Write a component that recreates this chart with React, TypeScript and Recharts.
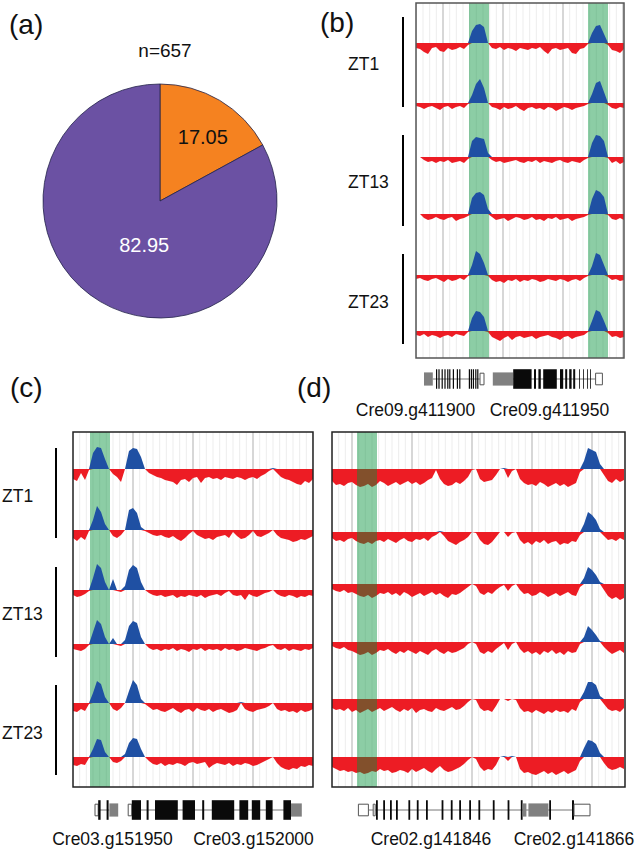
import {
  Area,
  CartesianGrid,
  Cell,
  ComposedChart,
  Pie,
  PieChart,
  ReferenceArea,
  ReferenceLine,
  XAxis,
  YAxis,
} from 'recharts';

const FONT = '"Liberation Sans", Arial, sans-serif';
const RED = '#ed1c24';
const BLUE = '#1f50a3';
const GREEN = '#009137';
const MINOR = 5 / 3; // minor grid spacing in track samples
const PER_MAJOR = 9;

// (a) pie
const PIE_NAMES = ['circadian', 'other'];
const PIE_VALUES = [17.05, 82.95];
const PIE_COLORS = ['#f58220', '#6b51a3'];
const PIE_TEXT = ['#111', '#fff'];
const SAMPLE_SIZE = 'n=657';

const ZT_LABELS = ['ZT1', 'ZT13', 'ZT23'];

// track signal: positive = blue peak, negative = red coverage
// (b)
const B_ZT1_A = [-5,-6,-9,-11,-5,-4,-8,-9,-5,-7,-6,-4,-6,-2, 12,18,19,16, 0, -5,-6,-4,-7,-5,-6,-8,-5,-6,-7,-5,-6,-4,-8,-11,-6,-5,-7,-6,-5,-10,-11,-6,-5, -1, 10,17,18,9, -2, -7,-8,-10,-6];
const B_ZT1_B = [-3,-4,-6,-4,-3,-5,-7,-4,-3,-6,-4,-3,-5,-1, 8,19,24,15, 0, -4,-5,-7,-4,-6,-5,-3,-6,-8,-5,-4,-6,-5,-7,-4,-5,-8,-6,-4,-5,-7,-5,-4,-3, -1, 9,20,22,11, -2, -5,-6,-4,-5];
const B_ZT13_A = [0,0,-3,-5,-4,-6,-4,-5,-3,-6,-5,-4,-6,-2, 16,20,19,18, 4, -3,-5,-4,-6,-5,-4,-3,-5,-6,-4,-5,-3,-6,-4,-5,-6,-4,-3,-5,-6,-4,-5,-6,-3, -1, 14,22,21,16, -1, -6,-4,-7,-5];
const B_ZT13_B = [0,0,-4,-6,-5,-3,-5,-6,-4,-3,-7,-5,-4,-2, 16,21,22,19, 5, -3,-6,-5,-4,-7,-5,-3,-4,-6,-5,-3,-6,-5,-7,-4,-5,-3,-6,-5,-4,-7,-5,-4,-3, -1, 15,24,22,17, -1, -5,-6,-4,-6];
const B_ZT23_A = [-4,-3,-5,-6,-4,-3,-5,-7,-4,-6,-5,-3,-5,-1, 10,24,21,12, -1, -5,-7,-6,-8,-5,-6,-4,-7,-5,-6,-4,-5,-7,-6,-4,-5,-6,-4,-5,-7,-5,-4,-6,-3, -1, 9,22,20,10, -2, -5,-4,-6,-5];
const B_ZT23_B = [-4,-5,-3,-6,-4,-5,-7,-5,-4,-6,-3,-4,-5,-1, 13,20,19,14, -1, -6,-8,-10,-7,-5,-9,-6,-5,-7,-6,-5,-8,-6,-5,-4,-6,-7,-9,-6,-5,-8,-6,-5,-4, -1, 10,21,19,10, -2, -6,-5,-7,-6];

// (c)
const C_ZT1_A = [-10,-12,-4,-11,-1, 16,22,21,10, 0, -5,-8,-13, 0, 18,21,20,12, 0, -4,-6,-8,-9,-11,-12,-13,-16,-11,-10,-13,-9,-8,-14,-9,-8,-10,-9,-11,-8,-9,-10,-8,-9,-11,-9,-8,-10,-7,-5,-2, 1, -4,-8,-10,-11,-13,-15,-16,-12,-14,-10];
const C_ZT1_B = [-8,-11,-7,-10,-1, 10,24,18,6, 0, -6,-8,-5, 0, 20,22,17,3, -1, -3,-5,-6,-5,-7,-8,-6,-9,-11,-8,-4,-1,-5,-7,-9,-8,-10,-7,-6,-5,-8,-2,-6,-9,-8,-5,-1,-6,-7,-5,-3,0,-5,-8,-9,-10,-12,-11,-9,-10,-8,-6];
const C_ZT13_A = [-5,-7,-6,-4,-1, 12,26,22,8, 0,11,-1,-2, 4,20,25,22,8, 0, -3,-5,-6,-5,-7,-6,-5,-8,-6,-7,-5,-6,-7,-5,-8,-6,-5,-4,-6,-3,-1,-5,-6,-5,-10,-4,-6,-7,-5,-3,-2,0,-4,-6,-7,-5,-6,-8,-6,-7,-5,-6];
const C_ZT13_B = [-5,-6,-7,-5,-1, 12,24,20,7, 0,6,-1,-2, 4,18,23,21,7, 0, -4,-6,-5,-7,-5,-6,-4,-7,-5,-6,-8,-5,-6,-4,-7,-5,-6,-5,-7,-4,-6,-5,-7,-6,-4,-5,-6,-7,-5,-4,-2,-1,-5,-6,-4,-7,-5,-6,-7,-5,-6,-4];
const C_ZT23_A = [-8,-9,-6,-8,-1, 10,22,19,6, 0, -6,-8,-5, 0, 12,23,18,4, -1, -4,-7,-6,-8,-9,-7,-5,-8,-10,-7,-6,-9,-5,-7,-8,-6,-9,-7,-6,-8,-10,-9,-7,1,-6,-8,-9,-7,-6,-5,-3,0,-6,-8,-7,-9,-8,-10,-7,-9,-8,-6];
const C_ZT23_B = [-8,-9,-7,-8,-1, 8,18,17,5, 0, -5,-6,-4, 3,14,19,18,8, 0, -4,-7,-8,-6,-9,-7,-8,-6,-7,-9,-6,-5,-7,-6,-5,-11,-8,-6,-7,-8,-6,-9,-7,-8,-6,-7,-9,-8,-6,-4,-2,0,-6,-10,-12,-13,-11,-12,-9,-10,-8,-9];

// (d)
const D_ZT1_A = [-12,-16,-15,-17,-14,-13,-16,-18,-17,-15,-18,-16,-12,-14,-17,-15,-13,-16,-14,-12,-15,-13,-16,-14,-11,-9,-1,-10,-15,-17,-16,-13,-15,-12,-8, -1, 0, -10,-13,-12,-11,-6, 0, 1, -9, -2, 0, -10,-14,-16,-15,-17,-13,-15,-18,-16,-14,-17,-15,-18,-16,-14,-3, 8,21,19,17,5, -6,-12,-14,-10,-13,-11];
const D_ZT1_B = [-6,-9,-8,-10,-7,-6,-9,-11,-12,-10,-12,-9,-8,-10,-7,-9,-11,-8,-6,-9,-10,-7,-8,-6,-9,-5,-3,1,-4,-9,-11,-13,-10,-8,-5, 0, -1, -8,-12,-13,-10,-5, 0, 0, -5, -1, 0, -8,-12,-10,-13,-9,-11,-8,-12,-10,-9,-13,-11,-12,-9,-10,-3, 8,20,17,12,3, -4,-8,-7,-9,-6,-8];
const D_ZT13_A = [-5,-7,-8,-6,-9,-8,-10,-12,-13,-11,-14,-12,-9,-10,-8,-11,-9,-12,-8,-10,-13,-11,-9,-12,-10,-8,-11,-9,-12,-14,-10,-11,-9,-6,-3, 0, -2, -9,-11,-8,-10,-6, -3, -1, -7, -2, 0, -6,-10,-9,-12,-11,-8,-10,-13,-11,-9,-12,-10,-8,-11,-12,-3, 6,17,14,9,2, -6,-12,-15,-13,-16,-14];
const D_ZT13_B = [-4,-6,-7,-5,-8,-9,-11,-13,-12,-10,-13,-11,-8,-9,-7,-10,-12,-9,-11,-8,-10,-12,-9,-11,-13,-9,-7,-10,-12,-9,-11,-10,-8,-6,-2, 0, -2, -10,-12,-9,-11,-7, -4, -1, -8, -2, 0, -7,-11,-9,-12,-10,-13,-9,-11,-8,-12,-10,-13,-9,-11,-10,-2, 5,16,12,7,1, -5,-9,-12,-10,-8,-11];
const D_ZT23_A = [-9,-11,-10,-12,-9,-13,-11,-14,-12,-10,-13,-11,-9,-12,-10,-8,-11,-13,-10,-12,-9,-14,-11,-10,-12,-13,-9,-11,-12,-10,-8,-11,-10,-7,-3, 0, -1, -9,-12,-11,-13,-7, 0, 0, -2, 0, -1, -9,-13,-12,-14,-11,-13,-15,-12,-14,-11,-13,-12,-14,-10,-12,-3, 7,17,17,14,3, -5,-10,-12,-11,-13,-9];
const D_ZT23_B = [-10,-12,-14,-13,-15,-14,-16,-15,-17,-16,-14,-15,-12,-14,-13,-16,-15,-13,-14,-16,-12,-15,-13,-11,-14,-16,-12,-9,-13,-15,-14,-12,-10,-7,-3, 0, -2, -10,-14,-12,-13,-8, 0, 1, -4, 1, 0, -12,-16,-15,-17,-18,-16,-14,-17,-15,-18,-16,-14,-17,-15,-13,-4, 9,17,16,13,4, -6,-11,-13,-12,-10,-12];

// gene models: [start, end, kind] in track sample units
type Kind = 'cds' | 'utr' | 'open';
const GENE_NAMES_B = ['Cre09.g411900', 'Cre09.g411950'];
const EXONS_B: [number, number, Kind][] = [
  [2.0, 4.2, 'utr'],
  [5.0, 5.3, 'cds'], [5.6, 5.9, 'cds'], [6.4, 6.7, 'cds'], [7.1, 7.4, 'cds'], [7.8, 8.1, 'cds'],
  [8.3, 8.6, 'cds'], [9.2, 9.5, 'cds'], [10.2, 10.5, 'cds'], [10.8, 11.1, 'cds'],
  [13.2, 13.5, 'cds'], [13.7, 14.0, 'cds'], [14.2, 14.5, 'cds'], [14.8, 15.1, 'cds'], [15.3, 15.6, 'cds'],
  [16.0, 17.0, 'open'],
  [19.2, 24.3, 'utr'],
  [24.3, 28.9, 'cds'], [29.5, 30.0, 'cds'], [30.6, 31.2, 'cds'], [31.8, 35.2, 'cds'], [36.0, 36.8, 'cds'],
  [37.3, 37.8, 'cds'], [38.3, 38.9, 'cds'], [39.3, 39.8, 'cds'],
  [40.8, 41.0, 'cds'], [41.8, 42.0, 'cds'], [42.8, 43.0, 'cds'], [43.5, 43.7, 'cds'],
  [44.9, 46.6, 'open'],
];
const INTRONS_B: [number, number][] = [[4.2, 16.0], [24.3, 44.9]];

const GENE_NAMES_C = ['Cre03.g151950', 'Cre03.g152000'];
const EXONS_C: [number, number, Kind][] = [
  [5.5, 6.3, 'open'], [6.3, 6.9, 'cds'], [8.4, 8.9, 'cds'], [9.1, 11.3, 'utr'],
  [13.8, 14.7, 'open'], [14.7, 17.0, 'cds'], [18.4, 18.9, 'cds'], [20.5, 26.2, 'cds'], [27.4, 30.5, 'cds'],
  [32.3, 32.8, 'cds'], [34.7, 40.3, 'cds'], [41.6, 43.8, 'cds'], [44.7, 46.8, 'cds'], [48.2, 49.9, 'cds'],
  [52.6, 54.5, 'cds'], [54.5, 57.2, 'utr'],
];
const INTRONS_C: [number, number][] = [[6.3, 9.1], [14.7, 54.5]];

const GENE_NAMES_D = ['Cre02.g141846', 'Cre02.g141866'];
const EXONS_D: [number, number, Kind][] = [
  [6.6, 9.1, 'open'], [10.3, 10.8, 'open'],
  [11.0, 11.45, 'cds'], [12.8, 13.25, 'cds'], [14.5, 14.95, 'cds'], [16.0, 16.45, 'cds'], [19.1, 19.55, 'cds'],
  [21.2, 21.65, 'cds'], [23.5, 23.95, 'cds'], [27.4, 27.85, 'cds'], [29.7, 30.15, 'cds'], [31.8, 32.25, 'cds'],
  [34.3, 34.75, 'cds'], [36.6, 37.05, 'cds'], [40.2, 40.65, 'cds'], [43.9, 44.35, 'cds'], [47.2, 47.65, 'cds'],
  [47.65, 48.6, 'utr'], [49.1, 54.1, 'utr'], [54.3, 54.75, 'cds'], [60.0, 60.5, 'cds'], [60.5, 64.5, 'open'],
];
const INTRONS_D: [number, number][] = [[9.1, 60.5]];

const HALF: Record<Kind, number> = { cds: 0.98, utr: 0.66, open: 0.58 };
const FILL: Record<Kind, string> = { cds: '#0a0a0a', utr: '#808080', open: '#ffffff' };
const EDGE: Record<Kind, string> = { cds: 'none', utr: 'none', open: '#555' };

const NO_MARGIN = { top: 0, right: 0, bottom: 0, left: 0 };

type PanelProps = {
  tracks: number[][];
  baselines: number[];
  width: number;
  height: number;
  span: number;
  bands: [number, number][];
  firstMajor: number;
};

function TrackPanel({ tracks, baselines, width, height, span, bands, firstMajor }: PanelProps) {
  const rows = tracks[0].map((_, i) => {
    const row: Record<string, number> = { x: i };
    tracks.forEach((t, k) => {
      row[`p${k}`] = Math.max(t[i], 0);
      row[`n${k}`] = Math.min(t[i], 0);
    });
    return row;
  });
  // grid ticks: minor every MINOR samples, every PER_MAJOR-th one darker
  const start = firstMajor % MINOR;
  const shift = Math.round((firstMajor - start) / MINOR);
  const ticks: number[] = [];
  for (let t = start; t <= span; t += MINOR) ticks.push(t);

  const gridLine = (p: any) => {
    const major = (((p.index - shift) % PER_MAJOR) + PER_MAJOR) % PER_MAJOR === 0;
    return (
      <line
        key={`g${p.index}`}
        x1={p.x1}
        x2={p.x2}
        y1={p.y1}
        y2={p.y2}
        stroke={major ? '#c2c2c2' : '#ededed'}
        strokeWidth={major ? 1.3 : 1}
      />
    );
  };

  return (
    <ComposedChart width={width} height={height} data={rows} margin={NO_MARGIN}>
      <XAxis
        xAxisId={0}
        dataKey="x"
        type="number"
        domain={[0, span]}
        ticks={ticks}
        interval={0}
        hide
        allowDataOverflow
      />
      {baselines.map((b, k) => (
        <YAxis key={k} yAxisId={k} type="number" domain={[b - height, b]} hide allowDataOverflow />
      ))}
      <CartesianGrid xAxisId={0} yAxisId={0} horizontal={false} vertical={gridLine} />
      {tracks.map((_, k) => (
        <Area
          key={`n${k}`}
          xAxisId={0}
          yAxisId={k}
          dataKey={`n${k}`}
          type="linear"
          baseValue={0}
          stroke="none"
          fill={RED}
          fillOpacity={1}
          dot={false}
          activeDot={false}
          isAnimationActive={false}
          zIndex={100}
        />
      ))}
      {bands.map(([a, b], i) => (
        <ReferenceArea
          key={`band${i}`}
          xAxisId={0}
          yAxisId={0}
          x1={a}
          x2={b}
          fill={GREEN}
          fillOpacity={0.45}
          stroke="none"
          zIndex={150}
        />
      ))}
      {tracks.map((_, k) => (
        <Area
          key={`p${k}`}
          xAxisId={0}
          yAxisId={k}
          dataKey={`p${k}`}
          type="linear"
          baseValue={0}
          stroke="none"
          fill={BLUE}
          fillOpacity={1}
          dot={false}
          activeDot={false}
          isAnimationActive={false}
          zIndex={200}
        />
      ))}
    </ComposedChart>
  );
}

type GeneProps = {
  width: number;
  span: number;
  exons: [number, number, Kind][];
  introns: [number, number][];
};

function GeneModel({ width, span, exons, introns }: GeneProps) {
  return (
    <ComposedChart width={width} height={24} data={[{ x: 0 }, { x: span }]} margin={NO_MARGIN}>
      <XAxis dataKey="x" type="number" domain={[0, span]} hide allowDataOverflow />
      <YAxis type="number" domain={[-1.2, 1.2]} hide allowDataOverflow />
      {introns.map(([a, b], i) => (
        <ReferenceLine
          key={`i${i}`}
          segment={[{ x: a, y: 0 }, { x: b, y: 0 }]}
          stroke="#777"
          strokeWidth={1}
          ifOverflow="visible"
          zIndex={50}
        />
      ))}
      {exons.map(([a, b, kind], i) => (
        <ReferenceArea
          key={`e${i}`}
          x1={a}
          x2={b}
          y1={-HALF[kind]}
          y2={HALF[kind]}
          fill={FILL[kind]}
          fillOpacity={1}
          stroke={EDGE[kind]}
          strokeWidth={1}
          ifOverflow="visible"
          zIndex={150}
        />
      ))}
    </ComposedChart>
  );
}

const pieData = PIE_NAMES.map((name, i) => ({ name, value: PIE_VALUES[i] }));
const RADIAN = Math.PI / 180;
const LABEL_RADIUS = [0.66, 0.4];
const LABEL_TURN = [-3, 11];

const renderPieLabel = (props: any) => {
  const { cx, cy, midAngle, outerRadius, index, value } = props;
  const r = outerRadius * LABEL_RADIUS[index];
  const a = (midAngle + LABEL_TURN[index]) * RADIAN;
  return (
    <text
      x={cx + r * Math.cos(-a)}
      y={cy + r * Math.sin(-a)}
      fill={PIE_TEXT[index]}
      fontSize={20}
      fontFamily={FONT}
      textAnchor="middle"
      dominantBaseline="central"
    >
      {value.toFixed(2)}
    </text>
  );
};

const abs = (left: number, top: number) => ({ position: 'absolute' as const, left, top });

export default function App() {
  return (
    <div style={{ position: 'absolute', left: 0, top: 0, width: 637, height: 852, background: '#fff', overflow: 'hidden' }}>
      <div style={abs(0, 0)}>
        <PieChart width={320} height={330} margin={NO_MARGIN}>
          <Pie
            data={pieData}
            dataKey="value"
            nameKey="name"
            cx={160}
            cy={201}
            outerRadius={117}
            startAngle={90}
            endAngle={-270}
            stroke="#23234a"
            strokeWidth={0.8}
            label={renderPieLabel}
            labelLine={false}
            isAnimationActive={false}
          >
            {pieData.map((d, i) => (
              <Cell key={d.name} fill={PIE_COLORS[i]} />
            ))}
          </Pie>
        </PieChart>
      </div>

      <div style={abs(416, 3)}>
        <TrackPanel
          tracks={[B_ZT1_A, B_ZT1_B, B_ZT13_A, B_ZT13_B, B_ZT23_A, B_ZT23_B]}
          baselines={[40, 100, 154, 211, 272, 328]}
          width={208}
          height={355}
          span={52}
          bands={[[13.25, 18.25], [43, 48]]}
          firstMajor={6.75}
        />
      </div>
      <div style={abs(416, 367)}>
        <GeneModel width={208} span={52} exons={EXONS_B} introns={INTRONS_B} />
      </div>

      <div style={abs(73, 432)}>
        <TrackPanel
          tracks={[C_ZT1_A, C_ZT1_B, C_ZT13_A, C_ZT13_B, C_ZT23_A, C_ZT23_B]}
          baselines={[37, 98, 158, 212, 271, 325]}
          width={240}
          height={355}
          span={60}
          bands={[[4.25, 9.25]]}
          firstMajor={15}
        />
      </div>
      <div style={abs(73, 798)}>
        <GeneModel width={240} span={60} exons={EXONS_C} introns={INTRONS_C} />
      </div>

      <div style={abs(332, 432)}>
        <TrackPanel
          tracks={[D_ZT1_A, D_ZT1_B, D_ZT13_A, D_ZT13_B, D_ZT23_A, D_ZT23_B]}
          baselines={[37, 100, 152, 210, 267, 325]}
          width={293}
          height={355}
          span={73.25}
          bands={[[6.25, 11.25]]}
          firstMajor={5}
        />
      </div>
      <div style={abs(332, 798)}>
        <GeneModel width={293} span={73.25} exons={EXONS_D} introns={INTRONS_D} />
      </div>

      <svg width={637} height={852} style={{ ...abs(0, 0), pointerEvents: 'none' }} fontFamily={FONT} fill="#111">
        <text x={9} y={34} fontSize={28}>(a)</text>
        <text x={165} y={57} fontSize={19} textAnchor="middle">{SAMPLE_SIZE}</text>
        <text x={320} y={32} fontSize={28}>(b)</text>
        <text x={10} y={397} fontSize={28}>(c)</text>
        <text x={297} y={397} fontSize={28}>(d)</text>

        <rect x={416} y={3} width={208} height={355} fill="none" stroke="#555" strokeWidth={1.5} />
        <rect x={73} y={432} width={240} height={355} fill="none" stroke="#222" strokeWidth={1.5} />
        <rect x={332} y={432} width={293} height={355} fill="none" stroke="#222" strokeWidth={1.5} />

        {ZT_LABELS.map((z, i) => (
          <text key={`bz${z}`} x={348} y={[70, 188, 308][i]} fontSize={17.5}>{z}</text>
        ))}
        {[[17, 107], [135, 226], [254, 344]].map(([a, b], i) => (
          <line key={`bl${i}`} x1={403} x2={403} y1={a} y2={b} stroke="#000" strokeWidth={2} />
        ))}
        {ZT_LABELS.map((z, i) => (
          <text key={`cz${z}`} x={2} y={[502, 620, 739][i]} fontSize={17.5}>{z}</text>
        ))}
        {[[448, 538], [567, 657], [685, 775]].map(([a, b], i) => (
          <line key={`cl${i}`} x1={56} x2={56} y1={a} y2={b} stroke="#000" strokeWidth={2} />
        ))}

        <text x={415.5} y={416} fontSize={17.5} textAnchor="middle">{GENE_NAMES_B[0]}</text>
        <text x={549.5} y={416} fontSize={17.5} textAnchor="middle">{GENE_NAMES_B[1]}</text>
        <text x={112.5} y={845} fontSize={17.5} textAnchor="middle">{GENE_NAMES_C[0]}</text>
        <text x={253.5} y={845} fontSize={17.5} textAnchor="middle">{GENE_NAMES_C[1]}</text>
        <text x={431} y={845} fontSize={17.5} textAnchor="middle">{GENE_NAMES_D[0]}</text>
        <text x={574} y={845} fontSize={17.5} textAnchor="middle">{GENE_NAMES_D[1]}</text>
      </svg>
    </div>
  );
}
